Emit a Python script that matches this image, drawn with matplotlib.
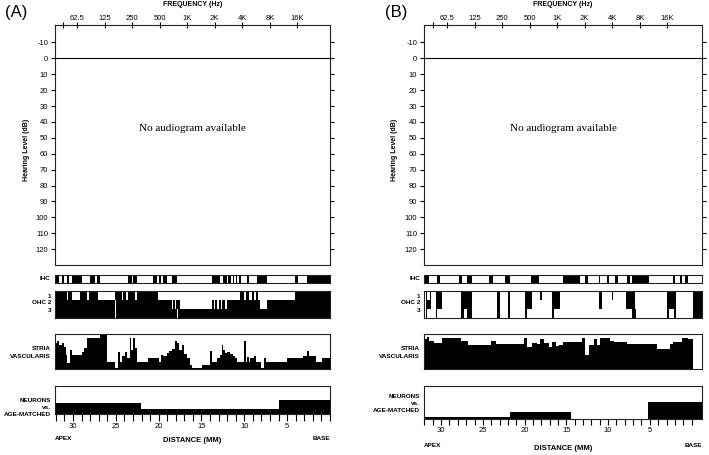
import numpy as np
import matplotlib
matplotlib.use('Agg')
import matplotlib.pyplot as plt
from matplotlib.patches import Rectangle
from matplotlib.ticker import NullFormatter

# ---------------- data ----------------
freq_ticks = [62.5, 125, 250, 500, 1000, 2000, 4000, 8000, 16000]
freq_labels = ['62.5', '125', '250', '500', '1K', '2K', '4K', '8K', '16K']
hl_ticks = list(range(-10, 130, 10))
dist_major = [30, 25, 20, 15, 10, 5]
dist_minor = list(range(0, 33))

# black (missing-cell) intervals along the cochlea, as flat (start, end) pairs in mm
ihc_a = [32.1, 31.63, 31.32, 31.05, 30.66, 30.43, 30.08, 28.98, 28.01, 27.43,
         27.15, 26.84, 23.53, 23.14, 22.95, 22.56, 20.61, 20.22, 19.95, 19.76,
         19.52, 19.05, 18.47, 17.89, 13.8, 12.82, 12.51, 12.05, 11.85, 11.58,
         11.34, 11.15, 10.95, 10.8, 10.6, 10.37, 9.71, 9.4, 8.54, 7.37, 4.06, 3.79,
         2.7, 0.0]
ohc_a_row1 = [32.1, 30.74, 30.54, 30.15, 29.18, 28.4, 28.17, 27.04, 25.09, 24.31,
              24.12, 23.81, 23.61, 22.75, 22.48, 20.03, 10.49, 10.02, 9.79, 9.40,
              9.16, 8.85, 8.62, 8.35, 4.06, 0.0]
ohc_a_row2 = [32.1, 25.05, 24.93, 18.47, 18.35, 18.08, 17.96, 17.5, 13.8, 13.53,
              13.37, 13.14, 12.98, 12.75, 12.59, 12.2, 12.05, 8.15, 7.37, 0.0]
ohc_a_row3 = [32.1, 25.05, 24.93, 17.89, 17.77, 0.0]
stria_a_edges = [32.1, 31.9, 31.6, 31.3, 31.05, 30.8, 30.65, 30.4, 30.15, 29.0, 28.7,
                 28.4, 26.85, 26.05, 25.1, 24.7, 24.5, 24.3, 23.9, 23.65, 23.4, 23.25,
                 23.0, 22.8, 22.55, 22.15, 21.2, 20.0, 19.75, 19.45, 19.05, 18.75,
                 18.45, 18.1, 17.9, 17.6, 17.3, 17.05, 16.7, 16.3, 16.1, 14.95, 14.05,
                 13.8, 13.2, 12.8, 12.6, 12.45, 12.25, 12.05, 11.65, 11.35, 11.1, 10.8,
                 10.0, 9.85, 9.7, 9.5, 9.3, 8.9, 8.6, 8.05, 7.7, 7.45, 5.05, 3.1, 2.7,
                 2.4, 1.6, 0.95, 0.0]
stria_a_pct = [74, 81, 69, 74, 64, 40, 16, 55, 40, 50, 60, 90, 98, 19, 4, 50, 19, 36,
               50, 31, 90, 55, 90, 60, 21, 19, 31, 19, 40, 36, 45, 52, 58, 81, 74, 55,
               69, 42, 31, 12, 2, 12, 52, 19, 31, 40, 69, 55, 45, 50, 42, 36, 31, 21,
               81, 21, 33, 21, 31, 38, 21, 2, 31, 19, 31, 38, 52, 38, 19, 31]
neuron_a_edges = [32.1, 22.1, 6.0, 0.0]
neuron_a_pct = [38, 15, 49]

ihc_b = [32.05, 31.45, 30.54, 30.14, 27.87, 27.55, 26.95, 26.27, 24.28, 23.76,
         22.29, 21.69, 19.22, 18.3, 15.4, 13.4, 12.73, 12.45, 11.13, 10.93,
         10.14, 9.94, 9.14, 8.86, 7.75, 7.43, 7.15, 5.04, 2.25, 1.97, 1.37, 1.17,
         0.78, 0.38]
ohc_b_row1 = [31.85, 31.65, 31.37, 31.25, 30.66, 29.86, 27.59, 26.27, 23.28, 22.89,
              21.97, 21.69, 19.9, 19.1, 18.1, 17.95, 16.71, 15.72, 11.13, 10.73,
              9.54, 9.42, 7.83, 6.75, 2.89, 1.85, -0.22, -1.22]
ohc_b_row2 = [31.85, 31.25, 30.66, 29.86, 27.59, 26.27, 23.28, 22.89, 21.97, 21.69,
              19.9, 19.1, 16.71, 15.72, 11.13, 10.73, 7.83, 6.75, 2.89, 1.85,
              -0.22, -1.22]
ohc_b_row3 = [31.85, 31.65, 30.66, 30.46, 27.59, 27.27, 26.95, 26.27, 23.28, 22.89,
              21.97, 21.69, 19.9, 19.7, 16.71, 16.43, 7.15, 6.63, 2.89, 2.65,
              2.09, 1.85, -0.22, -1.22]
stria_b_edges = [32.05, 31.65, 31.45, 30.85, 29.86, 28.86, 27.67, 26.79, 24.08, 23.48,
                 20.1, 19.7, 19.1, 18.5, 18.1, 17.71, 17.11, 16.71, 16.19, 15.91,
                 15.4, 13.13, 12.73, 12.33, 11.73, 11.33, 10.93, 9.74, 9.34, 7.75,
                 4.16, 2.57, 2.17, 1.17, 0.38, -0.22, -1.22]
stria_b_pct = [85, 92, 80, 75, 88, 88, 80, 70, 80, 72, 88, 62, 75, 72, 85, 75, 62,
               78, 65, 70, 78, 90, 40, 68, 85, 70, 88, 80, 78, 72, 58, 72, 78, 90,
               85, 0]
neuron_b_edges = [32.05, 21.69, 14.4, 5.16, -1.22]
neuron_b_pct = [6, 21, 0, 52]

# ---------------- figure ----------------
W, H = 709, 455
fig = plt.figure(figsize=(W / 100, H / 100), dpi=100)
LW = 0.8
plt.rcParams['font.family'] = 'Liberation Sans'
LAB = dict(fontsize=4.6, fontweight='bold', va='center')


def add_ax(x0, y0, x1, y1):
    return fig.add_axes([x0 / W, 1 - y1 / H, (x1 - x0) / W, (y1 - y0) / H])


def style_box(ax):
    for s in ax.spines.values():
        s.set_linewidth(LW)
        s.set_color('#222222')


def strip_ax(x0, y0, x1, y1, xlim):
    ax = add_ax(x0, y0, x1, y1)
    ax.set_xlim(*xlim)
    ax.set_ylim(0, 1)
    ax.set_xticks([])
    ax.set_yticks([])
    style_box(ax)
    return ax


def draw_pairs(ax, pairs, y0, y1):
    for i in range(0, len(pairs) - 1, 2):
        a, b = pairs[i], pairs[i + 1]
        ax.add_patch(Rectangle((b, y0), a - b, y1 - y0, facecolor='black',
                               edgecolor='none', lw=0))


def panel(px, letter, letter_x, f_left_off, ihc, ohc_rows, s_edges, s_pct,
          n_edges, n_pct, xlim, n_bot, tick_len, n_lab_y, lab_y, dist_y):
    x0, x1 = px
    fig.text(letter_x / W, 1 - 12 / H, letter, fontsize=12, va='center', ha='left')
    # audiogram
    ax = add_ax(x0, 25, x1, 265)
    ax.set_xscale('log', base=2)
    oct_px = 27.55
    fl = 62.5 / 2 ** (f_left_off / oct_px)
    ax.set_xlim(fl, fl * 2 ** ((x1 - x0) / oct_px))
    ax.set_ylim(130, -21)
    ax.xaxis.tick_top()
    ax.set_xticks(freq_ticks)
    ax.set_xticklabels(freq_labels)
    ax.set_xticks([62.5 / np.sqrt(2)], minor=True)
    ax.xaxis.set_minor_formatter(NullFormatter())
    ax.tick_params(axis='x', which='both', direction='inout', length=4, width=LW,
                   labelsize=5.5, pad=0.5)
    ax.set_yticks(hl_ticks)
    ax.set_yticklabels([str(v) for v in hl_ticks])
    ax.tick_params(axis='y', which='both', direction='out', length=3, width=LW,
                   labelsize=5.5, right=True, pad=2)
    ax.axhline(0, color='black', lw=LW)
    style_box(ax)
    ax.text(0.5, 0.57, 'No audiogram available', transform=ax.transAxes,
            ha='center', va='center', fontsize=8, family='Liberation Serif')
    fig.text((x0 + x1) / 2 / W, 1 - 5 / H, 'FREQUENCY (Hz)', fontsize=5,
             fontweight='bold', ha='center', va='center')
    fig.text((x0 - 29) / W, 1 - 150 / H, 'Hearing Level (dB)', rotation=90,
             fontsize=5, fontweight='bold', ha='center', va='center')

    lx = (x0 - 4) / W
    # IHC
    a = strip_ax(x0, 274.5, x1, 283, xlim)
    draw_pairs(a, ihc, 0, 1)
    fig.text(lx, 1 - 279 / H, 'IHC', ha='right', **LAB)
    # OHC
    a = strip_ax(x0, 291, x1, 318, xlim)
    for r, pairs in enumerate(ohc_rows):
        draw_pairs(a, pairs, 1 - (r + 1) / 3, 1 - r / 3)
    fig.text(lx, 1 - 296 / H, '1', ha='right', **LAB)
    fig.text(lx, 1 - 303 / H, 'OHC 2', ha='right', **LAB)
    fig.text(lx, 1 - 310 / H, '3', ha='right', **LAB)
    # stria
    a = strip_ax(x0, 334, x1, 369, xlim)
    a.set_ylim(0, 100)
    a.stairs(s_pct[::-1], s_edges[::-1], fill=True, color='black', baseline=0)
    fig.text(lx, 1 - 349 / H, 'STRIA', ha='right', **LAB)
    fig.text(lx, 1 - 357 / H, 'VASCULARIS', ha='right', **LAB)
    # neurons
    a = strip_ax(x0, 386, x1, n_bot, xlim)
    a.set_ylim(0, 100)
    a.stairs(n_pct[::-1], n_edges[::-1], fill=True, color='black', baseline=0)
    a.set_xticks(dist_major)
    a.set_xticklabels([str(v) for v in dist_major])
    a.set_xticks(dist_minor, minor=True)
    a.tick_params(axis='x', which='both', direction='out', length=tick_len, width=LW,
                  labelsize=5.5, pad=1.5)
    fig.text(lx, 1 - n_lab_y / H, 'NEURONS', ha='right', **LAB)
    fig.text(lx, 1 - (n_lab_y + 7.5) / H, 'vs.', ha='right', **LAB)
    fig.text(lx, 1 - (n_lab_y + 15) / H, 'AGE-MATCHED', ha='right', **LAB)
    fig.text(x0 / W, 1 - lab_y / H, 'APEX', ha='left', **LAB)
    fig.text(x1 / W, 1 - lab_y / H, 'BASE', ha='right', **LAB)
    fig.text((x0 + x1) / 2 / W, 1 - dist_y / H, 'DISTANCE (MM)',
             fontsize=5.5, fontweight='bold', ha='center', va='center')


panel((55, 330), '(A)', 5, 22, ihc_a, [ohc_a_row1, ohc_a_row2, ohc_a_row3],
      stria_a_edges, stria_a_pct, neuron_a_edges, neuron_a_pct, (32.1, 0.0),
      413.5, 5, 400, 438.5, 440)
panel((424, 702), '(B)', 385, 23, ihc_b, [ohc_b_row1, ohc_b_row2, ohc_b_row3],
      stria_b_edges, stria_b_pct, neuron_b_edges, neuron_b_pct, (32.05, -1.25),
      419, 4, 396, 445.5, 448)

fig.savefig('out.png', dpi=100)
